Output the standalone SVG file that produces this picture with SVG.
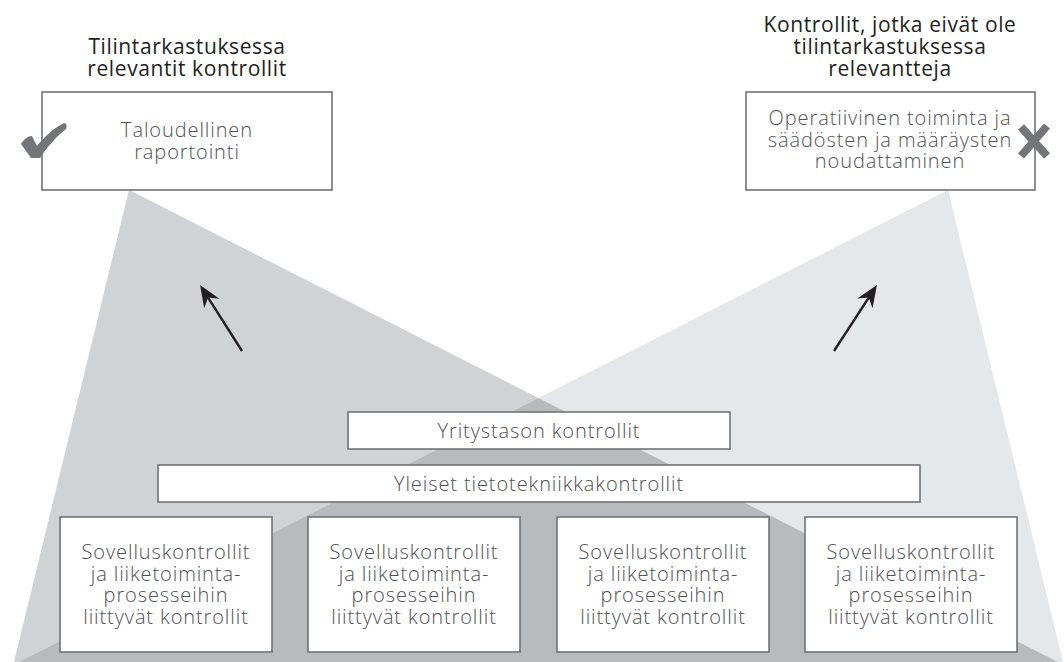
<svg xmlns="http://www.w3.org/2000/svg" width="1064" height="662" viewBox="0 0 1064 662">
<style>
.box{fill:#ffffff;stroke:#727376;stroke-width:1.6}
.t{font-family:"Open Sans","Liberation Sans",sans-serif;font-size:20px;font-weight:300;letter-spacing:0.9px;fill:#505153;text-anchor:middle}
.h{font-family:"Open Sans","Liberation Sans",sans-serif;font-size:21px;font-weight:500;letter-spacing:0.6px;fill:#231f20;text-anchor:middle}
.arr{stroke:#231f20;stroke-width:2.4;fill:none}
.mark{fill:#747578}
</style>
<defs>
<marker id="ah" markerUnits="userSpaceOnUse" viewBox="-24 -11 26 22" markerWidth="26" markerHeight="22" refX="-10" refY="0" orient="auto">
<path d="M0,0 L-22,-9 L-15,0 L-22,9 Z" fill="#231f20"/>
</marker>
</defs>
<rect width="1064" height="662" fill="#ffffff"/>
<g id="beams">
<polygon points="129,190 1058,662 14,662" fill="#d1d2d4"/>
<polygon points="948,190 1063,662 19,662" fill="#e6e7e8"/>
<polygon points="538.5,398 1058,662 19,662" fill="#b9babc"/>
</g>
<g id="title-left">
<text class="h" x="187" y="54">Tilintarkastuksessa</text>
<text class="h" x="187" y="76">relevantit kontrollit</text>
</g>
<g id="title-right">
<text class="h" x="890" y="32">Kontrollit, jotka eivät ole</text>
<text class="h" x="890" y="54">tilintarkastuksessa</text>
<text class="h" x="890" y="76">relevantteja</text>
</g>
<g id="node-financial">
<rect class="box" x="42" y="92" width="290" height="98"/>
<text class="t" x="187" y="137">Taloudellinen</text>
<text class="t" x="187" y="158.5">raportointi</text>
<path class="mark" d="M21,144 C24,139 28,136 32,136 L37,146 C45,136 54,128 64,123 C67,123 67,127 66,129 C56,137 47,147 40,158 L31,158 Z"/>
</g>
<g id="node-operational">
<rect class="box" x="746" y="92" width="289" height="98"/>
<text class="t" x="890" y="125">Operatiivinen toiminta ja</text>
<text class="t" x="890" y="146.5">säädösten ja määräysten</text>
<text class="t" x="890" y="168">noudattaminen</text>
<g stroke="#747578" stroke-width="8" stroke-linecap="butt">
<line x1="1021" y1="127" x2="1047" y2="156"/>
<line x1="1047" y1="126" x2="1021" y2="156"/>
</g>
</g>
<g id="connectors">
<line class="arr" x1="242" y1="351" x2="205.4" y2="293.4" marker-end="url(#ah)"/>
<line class="arr" x1="834" y1="351" x2="871.5" y2="293.4" marker-end="url(#ah)"/>
</g>
<g id="node-entity">
<rect class="box" x="348" y="412" width="382" height="37"/>
<text class="t" x="539" y="437.5">Yritystason kontrollit</text>
</g>
<g id="node-itgc">
<rect class="box" x="158" y="465" width="762" height="37"/>
<text class="t" x="539" y="490.5">Yleiset tietotekniikkakontrollit</text>
</g>
<g id="node-app1">
<rect class="box" x="60" y="517" width="212" height="135"/>
<text class="t" x="166" y="559">Sovelluskontrollit</text>
<text class="t" x="166" y="580.5">ja liiketoiminta-</text>
<text class="t" x="166" y="602">prosesseihin</text>
<text class="t" x="166" y="623.5">liittyvät kontrollit</text>
</g>
<g id="node-app2">
<rect class="box" x="308" y="517" width="212" height="135"/>
<text class="t" x="414" y="559">Sovelluskontrollit</text>
<text class="t" x="414" y="580.5">ja liiketoiminta-</text>
<text class="t" x="414" y="602">prosesseihin</text>
<text class="t" x="414" y="623.5">liittyvät kontrollit</text>
</g>
<g id="node-app3">
<rect class="box" x="557" y="517" width="212" height="135"/>
<text class="t" x="663" y="559">Sovelluskontrollit</text>
<text class="t" x="663" y="580.5">ja liiketoiminta-</text>
<text class="t" x="663" y="602">prosesseihin</text>
<text class="t" x="663" y="623.5">liittyvät kontrollit</text>
</g>
<g id="node-app4">
<rect class="box" x="805" y="517" width="212" height="135"/>
<text class="t" x="911" y="559">Sovelluskontrollit</text>
<text class="t" x="911" y="580.5">ja liiketoiminta-</text>
<text class="t" x="911" y="602">prosesseihin</text>
<text class="t" x="911" y="623.5">liittyvät kontrollit</text>
</g>
</svg>
